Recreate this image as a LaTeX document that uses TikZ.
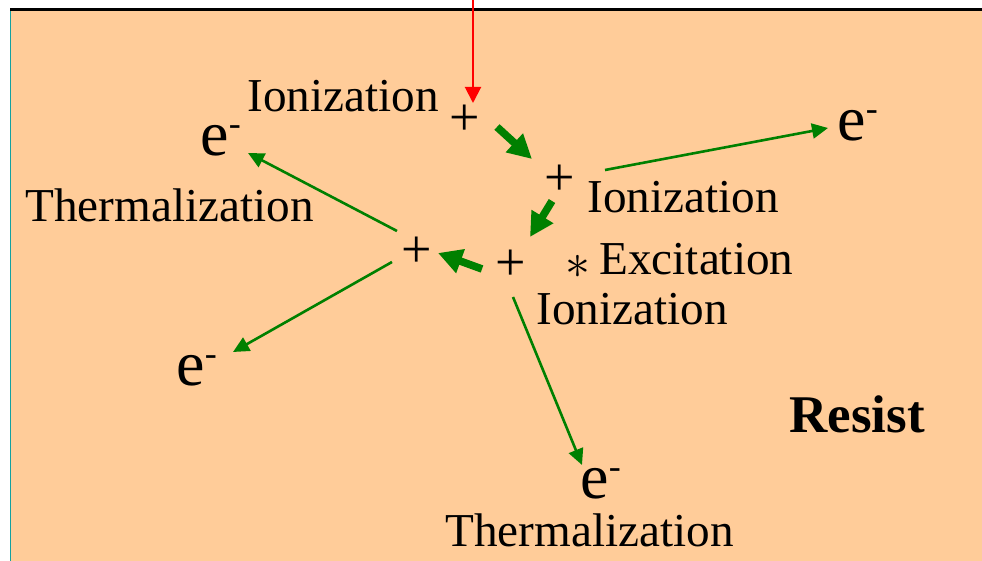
\documentclass[tikz,border=0pt]{standalone}
\usepackage{fontspec}
\setmainfont{Liberation Serif}
\usetikzlibrary{arrows.meta,calc}
\definecolor{resistbg}{RGB}{255,204,153}
\definecolor{edgeteal}{RGB}{20,160,160}
\definecolor{trackgreen}{RGB}{0,128,0}
\newcommand{\elec}{e\raisebox{10pt}{\fontsize{18}{18}\selectfont -}}

\begin{document}
\begin{tikzpicture}[x=0.5pt,y=-0.5pt,
    lbl/.style={inner sep=0pt,anchor=base west,font=\fontsize{23.6}{28}\selectfont},
    ion/.style={inner sep=0pt,font=\fontsize{27}{30}\selectfont},
    elbl/.style={inner sep=0pt,anchor=base west,font=\fontsize{32}{36}\selectfont},
    push/.style={trackgreen,line width=3.8pt,-{Triangle[length=12pt,width=12pt]}},
    track/.style={trackgreen,line width=1.3pt,-{Triangle[length=8pt,width=7.5pt]}}]
    \useasboundingbox (0,0) rectangle (982,561);
    % resist layer
    \fill[resistbg] (10,11) rectangle (982,561);
    \draw[edgeteal,line width=0.75pt] (10.5,11) -- (10.5,561);
    \draw[line width=1.5pt] (10,9.5) -- (982,9.5);

    % ions
    \node[ion] (plusA) at (465,120) {+};
    \node[ion] (plusB) at (560,180) {+};
    \node[ion] (plusC) at (511,265) {+};
    \node[ion] (plusD) at (417,252) {+};

    % labels
    \node[lbl] (ionA) at (247,112) {Ionization};
    \node[lbl] (thermL) at (25,222) {Thermalization};
    \node[lbl] (ionB) at (587,213) {Ionization};
    \node[inner sep=0pt,font=\fontsize{24}{28}\selectfont] (star) at (578,267) {$\ast$};
    \node[lbl] (excit) at (599,275) {Excitation};
    \node[lbl] (ionC) at (536,325) {Ionization};
    \node[lbl,font=\bfseries\fontsize{26.5}{30}\selectfont] (resist) at (789,433) {Resist};
    \node[lbl] (thermB) at (445,547) {Thermalization};

    % secondary electrons
    \node[elbl] (eTL) at (200,156) {\elec};
    \node[elbl] (eR) at (837,141) {\elec};
    \node[elbl] (eBL) at (176,386) {\elec};
    \node[elbl] (eB) at (580,499) {\elec};

    % incoming beam
    \coordinate (beam) at (473,0);
    \draw[red,line width=1pt,-{Triangle[length=8pt,width=8pt]}] (beam) -- ($(plusA)+(8,-17)$);

    % ion cascade
    \draw[push] ($(plusA)+(32,7)$) -- ($(plusB)+(-28,-21)$);
    \draw[push] ($(plusB)+(-8,21)$) -- ($(plusC)+(19,-28)$);
    \draw[push] ($(plusC)+(-29,4)$) -- ($(plusD)+(21,1)$);

    % electron tracks
    \draw[track] ($(plusB)+(45,-10)$) -- ($(eR.base west)+(-9,-13)$);
    \draw[track] ($(plusD)+(-20,-21)$) -- ($(eTL.base west)+(48,-3)$);
    \draw[track] ($(plusD)+(-25,10)$) -- ($(eBL.base west)+(57,-34)$);
    \draw[track] ($(plusC)+(2,32)$) -- ($(eB.base west)+(2,-34)$);
\end{tikzpicture}
\end{document}
